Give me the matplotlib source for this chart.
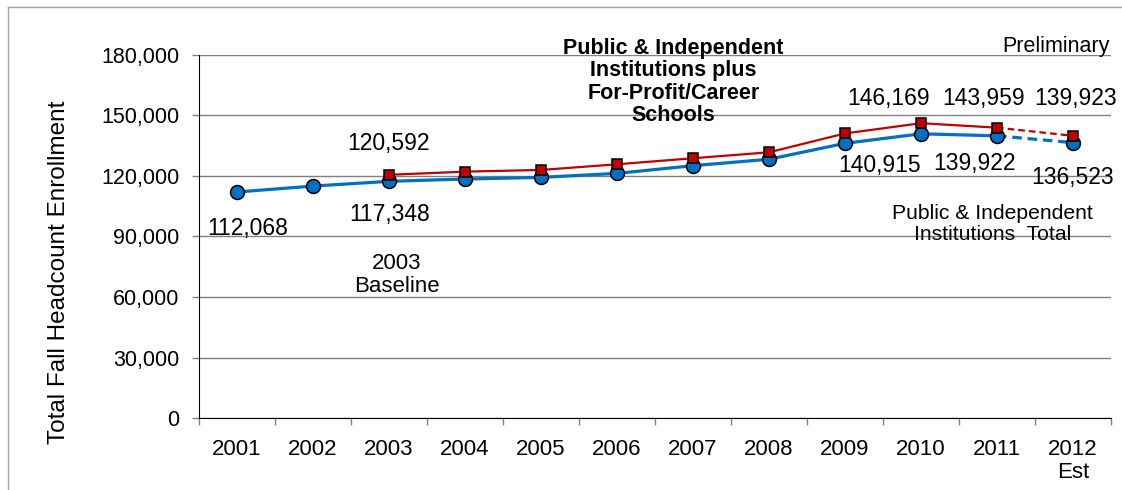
import matplotlib.pyplot as plt
from matplotlib.lines import Line2D

plt.rcParams['font.family'] = ['Liberation Sans', 'DejaVu Sans']

years = ['2001', '2002', '2003', '2004', '2005', '2006',
         '2007', '2008', '2009', '2010', '2011', '2012\nEst']
# public & independent institutions total
public_total = [112068, 115000, 117348, 118500, 119300, 121300,
                125100, 128300, 136200, 140915, 139922, 136523]
# public & independent plus for-profit/career schools (from 2003)
with_forprofit = [None, None, 120592, 122150, 123000, 125800,
                  128800, 131750, 141100, 146169, 143959, 139923]

blue = '#0070C0'
red = '#C00000'

fig = plt.figure(figsize=(11.22, 4.9), dpi=100)
ax = fig.add_axes([0.1774, 0.1469, 0.8128, 0.7409])

x = list(range(len(years)))

# solid up to 2011, dashed for the 2012 estimate
ax.plot(x[:11], public_total[:11], color=blue, lw=2.3, zorder=3)
ax.plot(x[10:], public_total[10:], color=blue, lw=2.3, ls=(0, (3, 1.8)), zorder=3)
ax.plot(x, public_total, ls='none', marker='o', ms=10, mfc=blue, mec='black',
        mew=1.1, zorder=4)

xr = x[2:]
yr = with_forprofit[2:]
ax.plot(xr[:9], yr[:9], color=red, lw=1.6, zorder=5)
ax.plot(xr[8:], yr[8:], color=red, lw=1.6, ls=(0, (3, 1.8)), zorder=5)
ax.plot(xr, yr, ls='none', marker='s', ms=7.5, mfc=red, mec='black',
        mew=1.1, zorder=6)

ax.set_ylim(0, 180000)
ax.set_xlim(-0.5, 11.5)
ax.set_yticks(range(0, 180001, 30000))
ax.set_yticklabels([f'{v:,}' for v in range(0, 180001, 30000)])
ax.yaxis.grid(True, color='#808080', lw=1)
ax.set_axisbelow(True)

ax.set_xticks([i - 0.5 for i in range(13)])
ax.set_xticklabels([])
ax.set_xticks(x, minor=True)
ax.set_xticklabels(years, minor=True)
ax.tick_params(axis='x', which='major', length=5, color='#808080', width=1)
ax.tick_params(axis='x', which='minor', length=0, pad=15, labelsize=16)
ax.tick_params(axis='y', length=5, color='#808080', width=1, pad=9, labelsize=15.5)
for t in ax.xaxis.get_minorticklabels():
    t.set_linespacing(1.15)

for s in ['top', 'right']:
    ax.spines[s].set_visible(False)
ax.spines['left'].set_color('black')
ax.spines['bottom'].set_color('black')

ax.set_ylabel('Total Fall Headcount Enrollment', fontsize=17.5)
ax.yaxis.set_label_coords(-0.142, 0.402)

# data labels
labels = [
    (8.57, 158500, '146,169'), (9.82, 158400, '143,959'), (11.03, 158500, '139,923'),
    (8.46, 125000, '140,915'), (9.71, 126400, '139,922'), (10.99, 119500, '136,523'),
    (1.99, 135900, '120,592'), (2.01, 100700, '117,348'), (0.14, 94200, '112,068'),
]
for lx, ly, txt in labels:
    ax.text(lx, ly, txt, fontsize=16.5, ha='center', va='center', zorder=7)

ax.text(2.1, 70700, '2003\nBaseline', fontsize=16, ha='center', va='center',
        linespacing=1.12)
ax.text(5.74, 166600, 'Public & Independent\nInstitutions plus\nFor-Profit/Career\nSchools',
        fontsize=15.5, fontweight='bold', ha='center', va='center', linespacing=1.1)
ax.text(10.77, 184300, 'Preliminary', fontsize=15.5, ha='center', va='center',
        clip_on=False)
ax.text(9.94, 96000, 'Public & Independent\nInstitutions  Total', fontsize=15.2,
        ha='center', va='center', linespacing=1.12)

# outer chart frame (top and left)
fig.add_artist(Line2D([8 / 1122, 8 / 1122], [0, 1 - 7 / 490], color='#a6a6a6', lw=1))
fig.add_artist(Line2D([8 / 1122, 1], [1 - 7 / 490, 1 - 7 / 490], color='#a6a6a6', lw=1))

fig.savefig('out.png', dpi=100)
